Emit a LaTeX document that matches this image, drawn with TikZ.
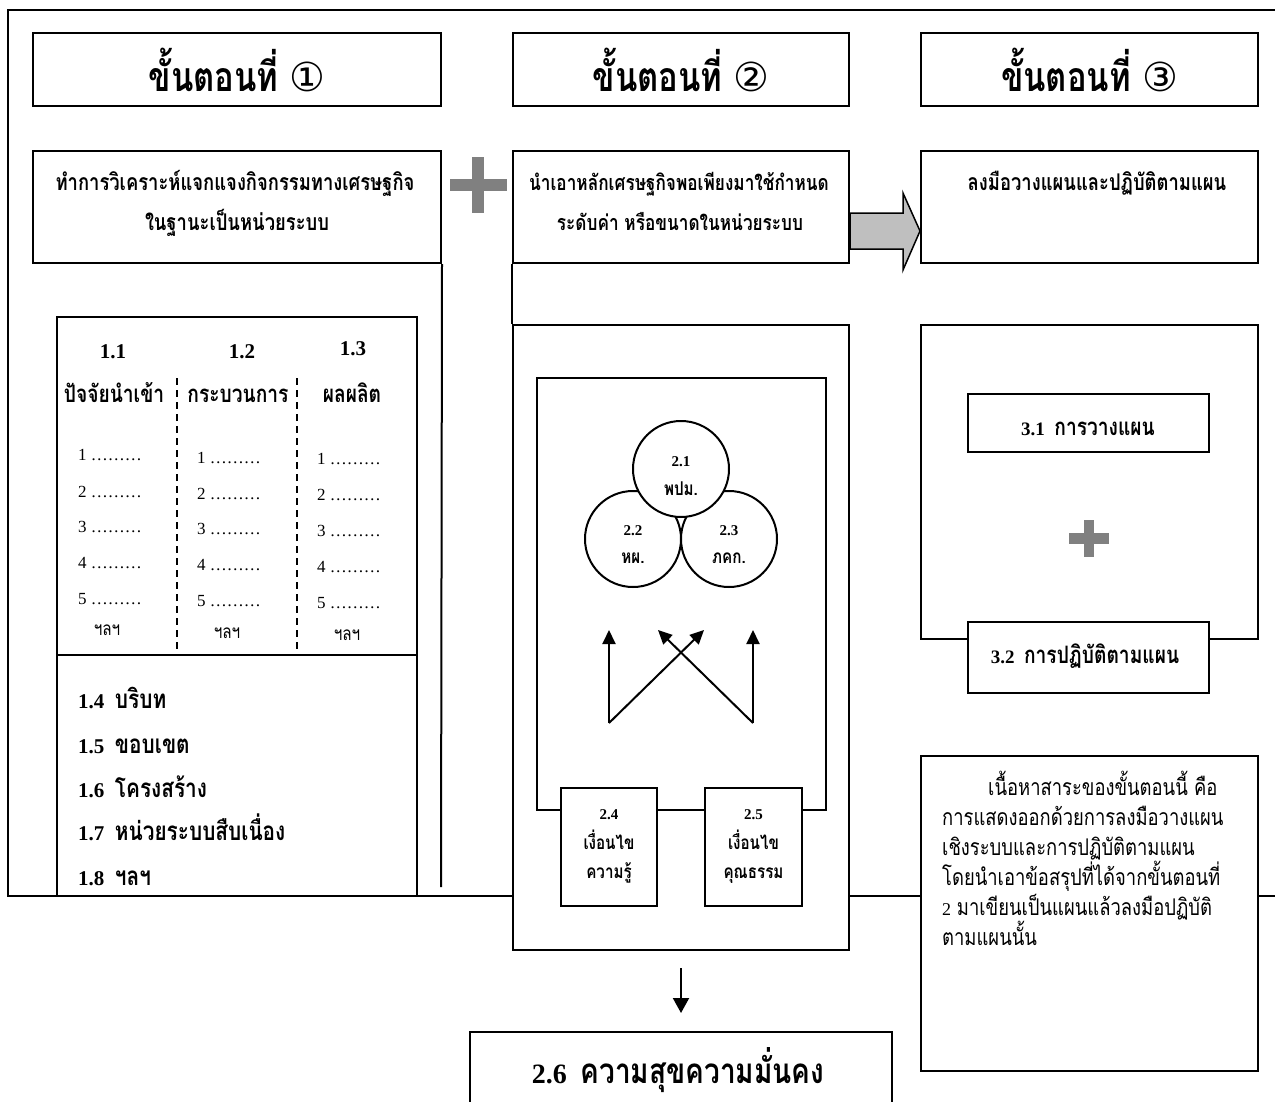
\documentclass[tikz,border=0pt]{standalone}
\usepackage{fontspec}
\setmainfont{Liberation Serif}
\newfontfamily\thai[Script=Thai,FakeStretch=0.8]{Loma}
\newfontfamily\dvs{DejaVu Sans}
\usetikzlibrary{arrows.meta,calc}
\newcommand\fs[1]{\fontsize{#1}{#1}\selectfont}
\tikzset{
  ln/.style={line width=2pt},
  box/.style={draw, line width=2pt, fill=white, inner sep=0pt, rectangle},
  circ/.style={draw, line width=2pt, fill=white, circle, inner sep=0pt, minimum size=96pt},
  txt/.style={inner sep=0pt, anchor=base},
  txtw/.style={inner sep=0pt, anchor=base west},
  arr/.style={line width=2pt, -{Triangle[length=14pt,width=13pt]}},
  plusc/.style={fill=black!50},
}
\begin{document}
\begin{tikzpicture}[x=1pt,y=-1pt]
\useasboundingbox (0,0) rectangle (1275,1101);
\clip (0,0) rectangle (1275,1101);
% outer frame
\draw[ln] (1300,10) -- (8,10) -- (8,896) -- (1300,896);
% headers
\node[box, minimum width=408pt, minimum height=73pt] (h1) at (237,69.5) {};
\node[box, minimum width=336pt, minimum height=73pt] (h2) at (681,69.5) {};
\node[box, minimum width=337pt, minimum height=73pt] (h3) at (1089.5,69.5) {};
\node[txt] (h1t) at (237,91) {\fs{41}\thai\bfseries ขั้นตอนที่ {\dvs\mdseries\fs{40}①}};
\node[txt] (h2t) at (681,91) {\fs{41}\thai\bfseries ขั้นตอนที่ {\dvs\mdseries\fs{40}②}};
\node[txt] (h3t) at (1089.5,91) {\fs{41}\thai\bfseries ขั้นตอนที่ {\dvs\mdseries\fs{40}③}};
% description boxes
\node[box, minimum width=408pt, minimum height=112pt] (d1) at (237,207) {};
\node[box, minimum width=336pt, minimum height=112pt] (d2) at (681,207) {};
\node[box, minimum width=337pt, minimum height=112pt] (d3) at (1089.5,207) {};
\node[txt] (d1a) at (235,190) {\fs{23}\thai\bfseries ทำการวิเคราะห์แจกแจงกิจกรรมทางเศรษฐกิจ};
\node[txt] (d1b) at (237,230) {\fs{23}\thai\bfseries ในฐานะเป็นหน่วยระบบ};
\node[txt] (d2a) at (679,190) {\fs{21.5}\thai\bfseries นำเอาหลักเศรษฐกิจพอเพียงมาใช้กำหนด};
\node[txt] (d2b) at (680,230) {\fs{21.5}\thai\bfseries ระดับค่า หรือขนาดในหน่วยระบบ};
\node[txt] (d3a) at (1097,190) {\fs{23}\thai\bfseries ลงมือวางแผนและปฏิบัติตามแผน};
% plus between step 1 and 2
\fill[plusc] (450,179) rectangle (507,191);
\fill[plusc] (472,157) rectangle (484,213);
% block arrow d2 -> d3
\draw[line width=1.5pt, fill=black!25] (d2.east |- 0,213) -- (903,213) -- (903,193) -- (d3.west |- 0,231) -- (903,270) -- (903,249) -- (d2.east |- 0,249) -- cycle;
% column lines
\draw[ln] (d1.south east) -- (441,887);
% table
\node[box, minimum width=360pt, minimum height=338pt] (tu) at (237,486) {};
\node[box, minimum width=360pt, minimum height=241pt] (tl) at (237,775.5) {};
\coordinate (da1) at (177,378);
\coordinate (da2) at (297,378);
\draw[ln, dash pattern=on 7pt off 5pt] (da1) -- (da1 |- tu.south);
\draw[ln, dash pattern=on 7pt off 5pt] (da2) -- (da2 |- tu.south);
\node[txt] (c11) at (113,358) {\fs{21}\bfseries 1.1};
\node[txt] (c12) at (242,358) {\fs{21}\bfseries 1.2};
\node[txt] (c13) at (353,355) {\fs{21}\bfseries 1.3};
\node[txt] (c11t) at (114,402) {\fs{24}\thai\bfseries ปัจจัยนำเข้า};
\node[txt] (c12t) at (238,402) {\fs{24}\thai\bfseries กระบวนการ};
\node[txt] (c13t) at (352,402) {\fs{24}\thai\bfseries ผลผลิต};
\foreach \i/\ya/\yb/\yc in {1/460/463/464, 2/497/499/500, 3/532/534/536, 4/568/570/572, 5/604/606/608}{
  \node[txtw] (ia\i) at (78,\ya) {\fs{17}\i\ ………};
  \node[txtw] (ib\i) at (197,\yb) {\fs{17}\i\ ………};
  \node[txtw] (ic\i) at (317,\yc) {\fs{17}\i\ ………};
}
\node[txt] (ea) at (107,635) {\fs{19}\thai ฯลฯ};
\node[txt] (eb) at (227,638) {\fs{19}\thai ฯลฯ};
\node[txt] (ec) at (347,640) {\fs{19}\thai ฯลฯ};
\node[txtw] (l14) at (78,708) {\fs{21}\bfseries 1.4\ \ {\fs{26}\thai บริบท}};
\node[txtw] (l15) at (78,753) {\fs{21}\bfseries 1.5\ \ {\fs{26}\thai ขอบเขต}};
\node[txtw] (l16) at (78,797) {\fs{21}\bfseries 1.6\ \ {\fs{26}\thai โครงสร้าง}};
\node[txtw] (l17) at (78,840) {\fs{21}\bfseries 1.7\ \ {\fs{26}\thai หน่วยระบบสืบเนื่อง}};
\node[txtw] (l18) at (78,885) {\fs{21}\bfseries 1.8\ \ {\fs{26}\thai ฯลฯ}};
% center column
\node[box, minimum width=336pt, minimum height=625pt] (cb) at (681,637.5) {};
\draw[ln] (d2.south west) -- (cb.north west);
\node[box, minimum width=289pt, minimum height=432pt] (ib) at (681.5,594) {};
\node[circ] (c22) at (633,539) {};
\node[circ] (c23) at (729,539) {};
\node[circ] (c21) at (681,469) {};
\node[txt] at (681,466) {\fs{15}\bfseries 2.1};
\node[txt] at (681,495) {\fs{19}\thai\bfseries พปม.};
\node[txt] at (633,535) {\fs{15}\bfseries 2.2};
\node[txt] at (633,563) {\fs{19}\thai\bfseries หผ.};
\node[txt] at (729,535) {\fs{15}\bfseries 2.3};
\node[txt] at (729,563) {\fs{19}\thai\bfseries ภคก.};
\coordinate (aL) at (609,723);
\coordinate (aR) at (753,723);
\coordinate (tL) at (609,630);
\coordinate (tR) at (753,630);
\coordinate (tx1) at (704,630);
\coordinate (tx2) at (658,630);
\draw[arr] (aL) -- (tL);
\draw[arr] (aR) -- (tR);
\draw[arr] (aL) -- (tx1);
\draw[arr] (aR) -- (tx2);
\node[box, minimum width=96pt, minimum height=118pt] (b24) at (609,847) {};
\node[box, minimum width=97pt, minimum height=118pt] (b25) at (753.5,847) {};
\node[txt] at (609,819) {\fs{15}\bfseries 2.4};
\node[txt] at (609,849) {\fs{19}\thai\bfseries เงื่อนไข};
\node[txt] at (609,878) {\fs{19}\thai\bfseries ความรู้};
\node[txt] at (753.5,819) {\fs{15}\bfseries 2.5};
\node[txt] at (753.5,849) {\fs{19}\thai\bfseries เงื่อนไข};
\node[txt] at (753.5,878) {\fs{19}\thai\bfseries คุณธรรม};
% bottom result
\node[box, minimum width=422pt, minimum height=100pt] (b26) at (681,1082) {};
\node[txt] at (678,1083) {\fs{28}\bfseries 2.6\ \ {\fs{35}\thai ความสุขความมั่นคง}};
\draw[arr, -{Triangle[length=15pt,width=16pt]}, shorten <=17pt, shorten >=18pt] (cb.south) -- (b26.north);
% right column
\node[box, minimum width=337pt, minimum height=314pt] (ob3) at (1089.5,482) {};
\node[box, minimum width=241pt, minimum height=58pt] (b31) at (1088.5,423) {};
\node[txt] at (1088,435) {\fs{19}\bfseries 3.1\ \ {\fs{24}\thai การวางแผน}};
\fill[plusc] (1069,533) rectangle (1109,544);
\fill[plusc] (1084,520) rectangle (1094,557);
\node[box, minimum width=241pt, minimum height=71pt] (b32) at (1088.5,657.5) {};
\node[txt] at (1085,663) {\fs{19}\bfseries 3.2\ \ {\fs{24}\thai การปฏิบัติตามแผน}};
\node[box, minimum width=337pt, minimum height=315pt] (tb) at (1089.5,913.5) {};
\node[txtw] at (988,795) {\fs{23}\thai เนื้อหาสาระของขั้นตอนนี้ คือ};
\node[txtw] at (942,825) {\fs{23}\thai การแสดงออกด้วยการลงมือวางแผน};
\node[txtw] at (942,855) {\fs{23}\thai เชิงระบบและการปฏิบัติตามแผน};
\node[txtw] at (942,885) {\fs{23}\thai โดยนำเอาข้อสรุปที่ได้จากขั้นตอนที่};
\node[txtw] at (942,915) {\fs{23}{\fontspec{Liberation Serif}\fs{18}2} \thai มาเขียนเป็นแผนแล้วลงมือปฏิบัติ};
\node[txtw] at (942,945) {\fs{23}\thai ตามแผนนั้น};
\end{tikzpicture}
\end{document}
